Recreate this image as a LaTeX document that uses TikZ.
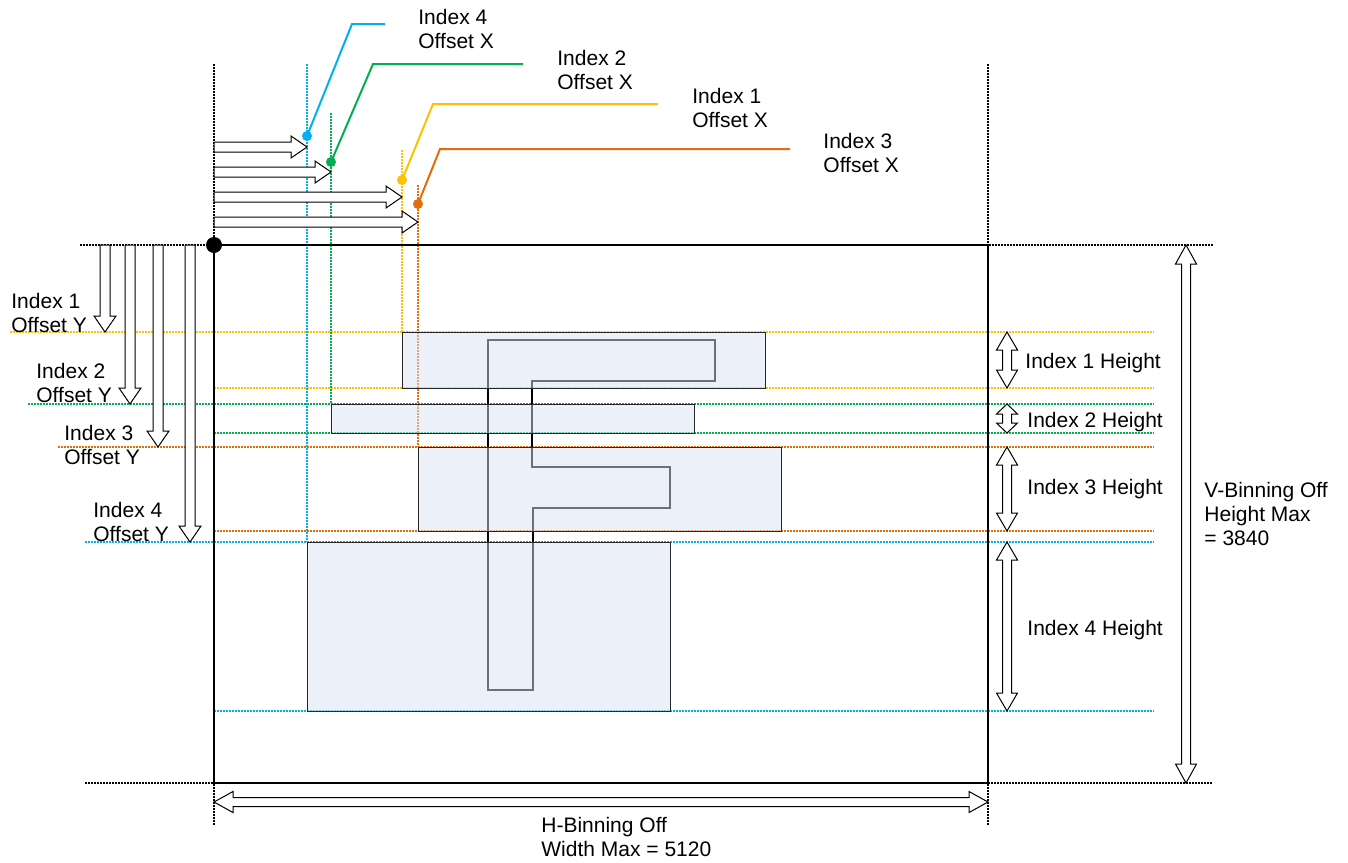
\documentclass[tikz,border=0pt]{standalone}
\usepackage{fontspec}
\setmainfont{Liberation Sans}
\definecolor{idxone}{RGB}{255,192,0}
\definecolor{idxtwo}{RGB}{0,176,80}
\definecolor{idxthree}{RGB}{228,108,10}
\definecolor{idxfour}{RGB}{0,176,240}
\definecolor{roifill}{RGB}{217,225,242}
\tikzset{
  lbl/.style={font=\fontsize{10.5}{12}\selectfont, inner sep=0pt, align=left},
  dotline/.style={line width=0.75pt, dash pattern=on 0.75pt off 0.75pt},
  roi/.style={draw=black!85, line width=0.5pt, fill=roifill, fill opacity=0.5},
  blockarr/.style={draw, line width=0.5pt, fill=white},
  callout/.style={line width=1pt},
  pics/sarrow/.style={code={
    \draw[blockarr] (0,-5) -- (#1-16,-5) -- (#1-16,-11) -- (#1,0)
      -- (#1-16,11) -- (#1-16,5) -- (0,5) -- cycle;}},
  pics/darrow/.style n args={2}{code={
    \draw[blockarr] (0,0) -- (#2,-10.5) -- (#2,-4.5) -- (#1-#2,-4.5)
      -- (#1-#2,-10.5) -- (#1,0) -- (#1-#2,10.5) -- (#1-#2,4.5)
      -- (#2,4.5) -- (#2,10.5) -- cycle;}},
}

\begin{document}
\begin{tikzpicture}[x=0.5pt, y=-0.5pt]
  \useasboundingbox (0,0) rectangle (1348,862);

  % guide lines
  \draw[dotline] (214,64) -- (214,825);
  \draw[dotline] (988,64) -- (988,825);
  \draw[dotline] (80,245) -- (1213,245);
  \draw[dotline] (85,783) -- (1213,783);
  \foreach \c/\xv/\ya/\yt/\yb/\xl in {idxone/402/150/332/388/10,
      idxtwo/331/113/404/433/28, idxthree/418/185/447/531/58,
      idxfour/307/64/542/711/85} {
    \draw[dotline, draw=\c] (\xv,\ya) -- (\xv,\yt);
    \draw[dotline, draw=\c] (\xl,\yt) -- (1154,\yt);
    \draw[dotline, draw=\c] (214,\yb) -- (1154,\yb);
  }

  % the F
  \draw[line width=0.8pt] (488,340) -- (715,340) -- (715,381) -- (532,381)
    -- (532,467) -- (670,467) -- (670,508) -- (533,508) -- (533,690)
    -- (488,690) -- cycle;

  % regions
  \draw[roi] (402,332) rectangle (765,388);
  \draw[roi] (331,404) rectangle (694,433);
  \draw[roi] (418,447) rectangle (781,531);
  \draw[roi] (307,542) rectangle (670,711);

  % sensor frame
  \draw[line width=0.9pt] (214,245) rectangle (988,783);
  \fill (214,245) circle[radius=8];

  % offsets
  \foreach \y/\xe in {147/307, 172/331, 197/402, 222/418}
    \pic at (214,\y) {sarrow={\xe-214}};
  \foreach \xa/\ye in {105/332, 130/404, 158/447, 190/542}
    \pic[rotate=-90] at (\xa,245) {sarrow={\ye-245}};

  % heights and maxima
  \pic[rotate=-90] at (1007,332) {darrow={56}{18}};
  \pic[rotate=-90] at (1007,404) {darrow={29}{10}};
  \pic[rotate=-90] at (1007,447) {darrow={84}{18}};
  \pic[rotate=-90] at (1007,542) {darrow={169}{18}};
  \pic[rotate=-90] at (1186,245) {darrow={538}{19}};
  \pic at (214,802) {darrow={774}{19}};

  % callouts
  \coordinate (dot4) at (307,136);
  \coordinate (dot2) at (331,162);
  \coordinate (dot1) at (402,180);
  \coordinate (dot3) at (418,204);
  \draw[callout, idxfour] (dot4) -- (352,24) -- (385,24);
  \draw[callout, idxtwo] (dot2) -- (373,64) -- (523,64);
  \draw[callout, idxone] (dot1) -- (433,104) -- (658,104);
  \draw[callout, idxthree] (dot3) -- (440,149) -- (790,149);
  \foreach \d/\c in {dot4/idxfour, dot2/idxtwo, dot1/idxone, dot3/idxthree}
    \fill[\c] (\d) circle[radius=5];

  % labels
  \node[lbl, anchor=north west] (offx4) at (418,9) {Index 4\\Offset X};
  \node[lbl, anchor=north west] (offx2) at (557,50) {Index 2\\Offset X};
  \node[lbl, anchor=north west] (offx1) at (692,88) {Index 1\\Offset X};
  \node[lbl, anchor=north west] (offx3) at (823,133) {Index 3\\Offset X};
  \node[lbl, anchor=north west] (offy1) at (11,293) {Index 1\\Offset Y};
  \node[lbl, anchor=north west] (offy2) at (36,363) {Index 2\\Offset Y};
  \node[lbl, anchor=north west] (offy3) at (64,425) {Index 3\\Offset Y};
  \node[lbl, anchor=north west] (offy4) at (93,502) {Index 4\\Offset Y};
  \node[lbl, anchor=base west] (hgt1) at (1025,368) {Index 1 Height};
  \node[lbl, anchor=base west] (hgt2) at (1027,427) {Index 2 Height};
  \node[lbl, anchor=base west] (hgt3) at (1027,494) {Index 3 Height};
  \node[lbl, anchor=base west] (hgt4) at (1027,635) {Index 4 Height};
  \node[lbl, anchor=north west] (vmax) at (1204,482) {V-Binning Off\\Height Max\\= 3840};
  \node[lbl, anchor=north west] (hmax) at (541,817) {H-Binning Off\\Width Max = 5120};
\end{tikzpicture}
\end{document}
